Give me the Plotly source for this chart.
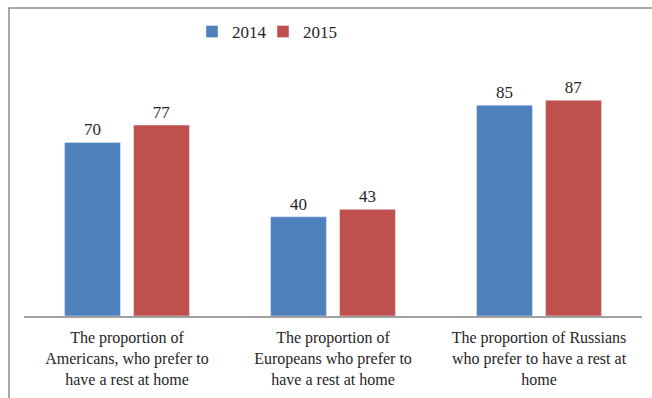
import plotly.graph_objects as go

categories = [
    "The proportion of<br>Americans, who prefer to<br>have a rest at home",
    "The proportion of<br>Europeans who prefer to<br>have a rest at home",
    "The proportion of Russians<br>who prefer to have a rest at<br>home",
]
values_2014 = [70, 40, 85]
values_2015 = [77, 43, 87]
series_names = ["2014", "2015"]

FONT = "Liberation Serif"
W, H = 652, 398
L, R, T, B = 24, 10, 68, 82

fig = go.Figure()
fig.add_trace(go.Bar(x=categories, y=values_2014, name=series_names[0],
                     marker_color="#4F81BD", text=values_2014, textposition="outside",
                     textfont=dict(family=FONT, size=17, color="#262626"), cliponaxis=False,
                     legend="legend"))
fig.add_trace(go.Bar(x=categories, y=values_2015, name=series_names[1],
                     marker_color="#C0504D", text=values_2015, textposition="outside",
                     textfont=dict(family=FONT, size=17, color="#262626"), cliponaxis=False,
                     legend="legend2"))

pw = W - L - R
ph = H - T - B
leg_common = dict(orientation="h", xanchor="left", y=(H - B - 32) / ph, yanchor="middle",
                  font=dict(family=FONT, size=17, color="#262626"),
                  itemwidth=30, bgcolor="rgba(0,0,0,0)")
fig.update_layout(
    width=W, height=H,
    margin=dict(l=L, r=R, t=T, b=B, autoexpand=False),
    paper_bgcolor="white", plot_bgcolor="white",
    barmode="group", bargap=0.33, bargroupgap=0.19,
    font=dict(family=FONT, size=16, color="#262626"),
    showlegend=True,
    legend=dict(x=(192 - L) / pw, **leg_common),
    legend2=dict(x=(263 - L) / pw, **leg_common),
    xaxis=dict(showline=True, linecolor="#A0A0A0", linewidth=2, ticks="",
               tickfont=dict(family=FONT, size=16, color="#262626"),
               ticklabelstandoff=6),
    yaxis=dict(range=[0, 100], visible=False, showgrid=False, zeroline=False),
    shapes=[dict(type="rect", xref="paper", yref="paper",
                 x0=(9 - L) / pw, x1=1.2, y0=-0.6, y1=(H - B - 8) / ph,
                 line=dict(color="#8C8C8C", width=1.5), layer="below")],
)

fig.write_html("out.html")
